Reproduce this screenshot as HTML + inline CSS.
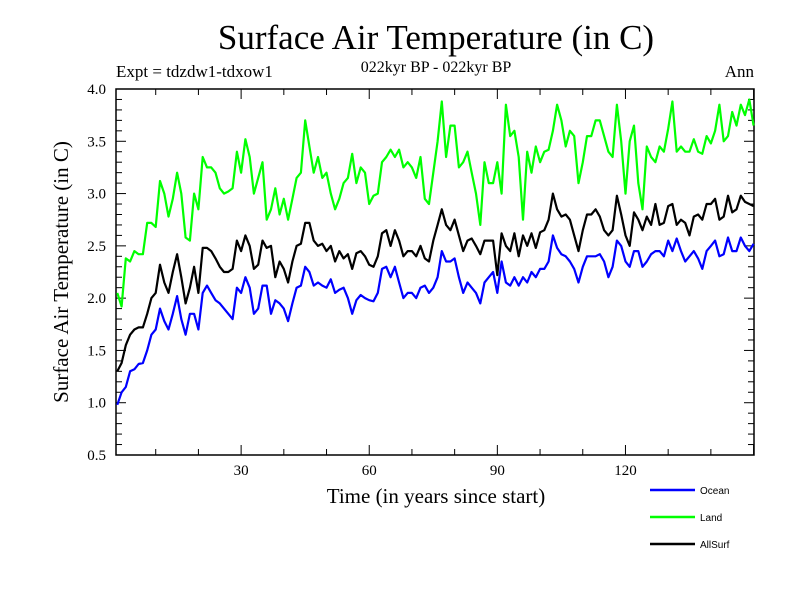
<!DOCTYPE html>
<html><head><meta charset="utf-8"><style>
body{margin:0;background:#fff;}
svg text{font-family:"Liberation Serif",serif;}
</style></head><body>
<svg id="chart" width="800" height="600" xmlns="http://www.w3.org/2000/svg">
<text x="436" y="49" font-size="35" text-anchor="middle">Surface Air Temperature (in C)</text>
<text x="116" y="77" font-size="17">Expt = tdzdw1-tdxow1</text>
<text x="436" y="72" font-size="16" text-anchor="middle">022kyr BP - 022kyr BP</text>
<text x="754" y="77" font-size="17" text-anchor="end">Ann</text>
<text x="0" y="0" font-size="21" text-anchor="middle" transform="translate(68,272) rotate(-90)">Surface Air Temperature (in C)</text>
<text x="436" y="503" font-size="21" text-anchor="middle">Time (in years since start)</text>
<g id="axes"></g>
<g id="series"></g>
<g id="legend"></g>
</svg>
<script>
const years = Array.from({length:150},(_,i)=>i+1);
const yTicks = [0.5,1.0,1.5,2.0,2.5,3.0,3.5,4.0];
const xTicks = [30,60,90,120];
const seriesNames = ["Ocean","Land","AllSurf"];
const seriesColors = ["#0000ff","#00ff00","#000000"];
const ocean = [0.98,1.1,1.15,1.3,1.32,1.37,1.38,1.5,1.65,1.7,1.9,1.78,1.7,1.85,2.02,1.8,1.65,1.85,1.85,1.7,2.05,2.12,2.05,1.98,1.95,1.9,1.85,1.8,2.1,2.05,2.2,2.1,1.85,1.9,2.12,2.12,1.85,1.98,1.95,1.9,1.78,1.95,2.1,2.12,2.3,2.25,2.12,2.15,2.12,2.1,2.18,2.05,2.08,2.1,2.0,1.85,1.98,2.03,2.0,1.98,1.97,2.05,2.28,2.3,2.2,2.3,2.15,2.0,2.05,2.05,2.0,2.1,2.12,2.05,2.1,2.2,2.45,2.35,2.35,2.38,2.2,2.05,2.15,2.1,2.05,1.95,2.15,2.2,2.25,2.05,2.35,2.15,2.12,2.2,2.12,2.2,2.15,2.25,2.2,2.28,2.28,2.35,2.6,2.48,2.42,2.4,2.35,2.28,2.15,2.3,2.4,2.4,2.4,2.42,2.35,2.2,2.3,2.55,2.5,2.35,2.3,2.45,2.45,2.3,2.35,2.42,2.45,2.45,2.4,2.55,2.45,2.57,2.45,2.35,2.4,2.45,2.38,2.28,2.45,2.5,2.55,2.4,2.42,2.58,2.45,2.45,2.58,2.5,2.45,2.52];
const land = [2.05,1.92,2.38,2.35,2.45,2.42,2.42,2.72,2.72,2.68,3.12,3.0,2.78,2.95,3.2,3.0,2.58,2.55,3.0,2.85,3.35,3.25,3.25,3.2,3.05,3.0,3.02,3.05,3.4,3.2,3.52,3.35,3.0,3.15,3.3,2.75,2.85,3.05,2.8,2.95,2.75,2.95,3.15,3.2,3.7,3.45,3.2,3.35,3.15,3.2,3.0,2.85,2.95,3.1,3.15,3.38,3.1,3.25,3.2,2.9,2.98,3.0,3.3,3.35,3.42,3.35,3.42,3.25,3.3,3.25,3.15,3.35,2.95,2.9,3.2,3.5,3.88,3.35,3.65,3.65,3.25,3.3,3.4,3.2,3.0,2.7,3.3,3.1,3.1,3.3,3.0,3.85,3.55,3.6,3.35,2.75,3.4,3.2,3.45,3.3,3.4,3.42,3.6,3.85,3.7,3.45,3.6,3.55,3.1,3.3,3.55,3.55,3.7,3.7,3.55,3.4,3.35,3.85,3.5,3.0,3.5,3.65,3.1,2.85,3.45,3.35,3.3,3.45,3.4,3.62,3.88,3.4,3.45,3.4,3.4,3.52,3.4,3.38,3.55,3.48,3.6,3.85,3.5,3.55,3.78,3.65,3.85,3.75,3.9,3.65];
const allsurf = [1.3,1.38,1.55,1.65,1.7,1.72,1.72,1.85,2.0,2.05,2.32,2.15,2.05,2.25,2.42,2.2,1.95,2.1,2.3,2.05,2.48,2.48,2.45,2.38,2.3,2.25,2.25,2.28,2.55,2.45,2.6,2.5,2.28,2.32,2.55,2.48,2.5,2.2,2.35,2.28,2.15,2.35,2.5,2.52,2.72,2.72,2.55,2.5,2.52,2.45,2.5,2.35,2.45,2.38,2.42,2.28,2.43,2.45,2.4,2.32,2.3,2.4,2.62,2.65,2.5,2.65,2.55,2.4,2.45,2.45,2.4,2.5,2.38,2.35,2.55,2.7,2.85,2.7,2.65,2.75,2.6,2.45,2.55,2.57,2.5,2.42,2.55,2.55,2.55,2.22,2.62,2.5,2.45,2.62,2.4,2.6,2.5,2.62,2.48,2.63,2.65,2.75,3.0,2.85,2.78,2.8,2.75,2.6,2.45,2.65,2.8,2.8,2.85,2.78,2.65,2.6,2.65,2.98,2.8,2.6,2.5,2.82,2.75,2.65,2.78,2.7,2.9,2.7,2.72,2.88,2.9,2.7,2.75,2.72,2.6,2.78,2.8,2.75,2.9,2.9,2.95,2.75,2.78,2.98,2.82,2.85,2.98,2.92,2.9,2.88];

const X0=116,X1=754,Y0=455,Y1=89;
const xMin=0.7,xMax=150.1,yMin=0.5,yMax=4.0;
const sx=v=>X0+(v-xMin)/(xMax-xMin)*(X1-X0);
const sy=v=>Y0-(v-yMin)/(yMax-yMin)*(Y0-Y1);
const NS="http://www.w3.org/2000/svg";
function mk(tag,attrs,parent){const e=document.createElementNS(NS,tag);for(const k in attrs)e.setAttribute(k,attrs[k]);parent.appendChild(e);return e;}
const axes=document.getElementById('axes');
const frame=mk('rect',{x:X0,y:Y1,width:X1-X0,height:Y0-Y1,fill:'none',stroke:'#000','stroke-width':1.5},axes);


for(let v=0.5;v<=4.0001;v+=0.1){
  const y=sy(v);const major=Math.abs(v*2-Math.round(v*2))<1e-6;
  const L=major?10:6;
  const t1=mk('line',{x1:X0,x2:X0+L,y1:y,y2:y,stroke:'#000','stroke-width':1},axes);
  
  
  const t2=mk('line',{x1:X1,x2:X1-L,y1:y,y2:y,stroke:'#000','stroke-width':1},axes);
  
  
}
yTicks.forEach(v=>{
  const t=mk('text',{x:X0-10,y:sy(v)+5,'font-size':15,'text-anchor':'end'},axes);
  t.textContent=v.toFixed(1);
  
  
});
for(let v=10;v<=150;v+=10){
  const x=sx(v);const major=v%30===0;const L=major?10:6;
  const t1=mk('line',{x1:x,x2:x,y1:Y0,y2:Y0-L,stroke:'#000','stroke-width':1},axes);
  
  
  const t2=mk('line',{x1:x,x2:x,y1:Y1,y2:Y1+L,stroke:'#000','stroke-width':1},axes);
  
  
}
xTicks.forEach(v=>{
  const t=mk('text',{x:sx(v),y:Y0+20,'font-size':15,'text-anchor':'middle'},axes);
  t.textContent=String(v);
  
  
});
const ser=document.getElementById('series');
[ocean,land,allsurf].forEach((arr,i)=>{
  const pts=arr.map((v,j)=>sx(years[j]).toFixed(1)+','+sy(v).toFixed(1)).join(' ');
  const p=mk('polyline',{points:pts,fill:'none',stroke:seriesColors[i],'stroke-width':2.2,'stroke-linejoin':'round'},ser);
  
  
});
const leg=document.getElementById('legend');
seriesNames.forEach((n,i)=>{
  const y=490+i*27;
  const l=mk('line',{x1:650,x2:695,y1:y,y2:y,stroke:seriesColors[i],'stroke-width':2.5},leg);
  
  
  const t=mk('text',{x:700,y:y+4,'font-size':10,style:'font-family:"Liberation Sans",sans-serif'},leg);
  t.textContent=n;
  
  
});
</script>
</body></html>
